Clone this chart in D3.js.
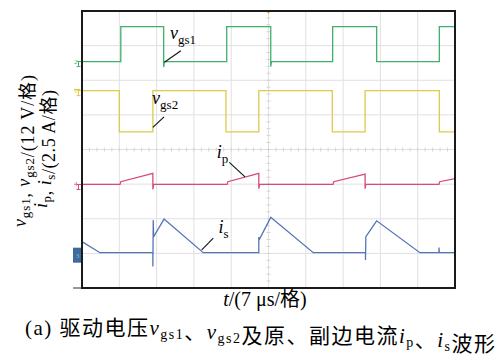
<!DOCTYPE html>
<html>
<head>
<meta charset="utf-8">
<style>
body {
    margin: 0px;
    overflow: hidden;
    background: #fff;
}
text {
    font-family: "Liberation Serif", "Noto Sans CJK SC", serif;
}
</style>
<script src="https://cdnjs.cloudflare.com/ajax/libs/d3/7.8.5/d3.min.js"></script>
</head>
<body>
<div id="chart"></div>
<script>
// scope grid: 10 x 8 divisions, waveforms given in divisions
var xDivs = d3.range(0, 11);
var yDivs = d3.range(0, 9);

var vgs1 = [[0,6.54],[1.04,6.54],[1.04,7.55],[2.19,7.55],[2.19,6.38],[2.21,6.54],[3.88,6.54],[3.88,7.55],
            [5.06,7.55],[5.06,6.40],[5.08,6.54],[6.72,6.54],[6.72,7.55],[7.90,7.55],[7.90,6.54],
            [9.58,6.54],[9.58,7.55],[10,7.55]];
var vgs2 = [[0,5.70],[1.00,5.70],[1.00,4.51],[1.90,4.51],[1.90,5.70],[3.86,5.70],[3.86,4.51],[4.74,4.51],
            [4.74,5.70],[6.71,5.70],[6.71,4.51],[7.59,4.51],[7.59,5.70],[9.58,5.70],[9.58,4.51],[10,4.51]];
var ip = [[0,2.99],[1.02,2.99],[1.04,3.07],[1.90,3.31],[1.90,2.85],[1.92,2.99],[3.89,2.99],[3.91,3.07],
          [4.74,3.31],[4.74,2.87],[4.76,2.99],[6.73,2.99],[6.75,3.07],[7.59,3.29],[7.59,2.87],[7.61,2.99],
          [9.57,2.99],[9.59,3.07],[10,3.16]];
var is = [[0,1.34],[0.48,1.02],[1.90,1.02],[1.90,0.62],[1.91,1.96],[1.92,1.48],[2.20,1.99],[3.25,1.02],
          [4.74,1.02],[4.74,1.47],[4.75,1.39],[5.06,2.04],[6.20,1.02],[7.60,1.02],[7.60,0.81],[7.61,1.48],
          [7.90,1.94],[9.06,1.02],[9.57,1.02],[9.57,1.17],[9.58,1.02],[10,1.02]];

var traces = [
    {name: "vgs1", ch: "2", data: vgs1, color: "#3fb06a"},
    {name: "vgs2", ch: "1", data: vgs2, color: "#ddcb4c"},
    {name: "ip",   ch: "4", data: ip,   color: "#d64a7c"},
    {name: "is",   ch: "3", data: is,   color: "#5675b6"}
];

// labels: main letter, subscript, text anchor and leader line (divisions)
var labels = [
    {main: "v", sub: "gs1", at: [2.36, 7.18], from: [2.65, 6.85], to: [2.21, 6.52]},
    {main: "v", sub: "gs2", at: [1.88, 5.30], from: [2.20, 4.94], to: [1.90, 4.64]},
    {main: "i", sub: "p",   at: [3.61, 3.75], from: [3.95, 3.63], to: [4.37, 3.21]},
    {main: "i", sub: "s",   at: [3.66, 1.58], from: [3.52, 1.44], to: [3.21, 1.10]}
];

var width = 498, height = 364;
var svg = d3.select("#chart").append("svg")
        .attr("width", width)
        .attr("height", height);

var x = d3.scaleLinear().domain([0, 10]).range([82, 455]);
var y = d3.scaleLinear().domain([0, 8]).range([288, 11]);

// grid
svg.append("g").selectAll("line").data(xDivs.slice(1, -1)).enter().append("line")
    .attr("x1", d => x(d)).attr("x2", d => x(d))
    .attr("y1", y(8)).attr("y2", y(0))
    .attr("stroke", "#e0e0e0").attr("stroke-width", 1);
svg.append("g").selectAll("line").data(yDivs.slice(1, -1)).enter().append("line")
    .attr("y1", d => y(d)).attr("y2", d => y(d))
    .attr("x1", x(0)).attr("x2", x(10))
    .attr("stroke", "#e0e0e0").attr("stroke-width", 1);

// minor ticks on the centre lines
svg.append("g").selectAll("line").data(d3.range(0, 8.01, 0.2)).enter().append("line")
    .attr("x1", x(5) - 2).attr("x2", x(5) + 2)
    .attr("y1", d => y(d)).attr("y2", d => y(d))
    .attr("stroke", "#d4d4d4");
svg.append("g").selectAll("line").data(d3.range(0, 10.01, 0.2)).enter().append("line")
    .attr("y1", y(4) - 2).attr("y2", y(4) + 2)
    .attr("x1", d => x(d)).attr("x2", d => x(d))
    .attr("stroke", "#d4d4d4");

// waveforms
var line = d3.line().x(d => x(d[0])).y(d => y(d[1]));
svg.append("g").selectAll("path").data(traces).enter().append("path")
    .attr("d", d => line(d.data))
    .attr("fill", "none")
    .attr("stroke", d => d.color)
    .attr("stroke-width", 1.3);

// channel ground markers on the left
traces.forEach(function (t) {
    if (t.ch === "3") {
        svg.append("rect").attr("x", 73).attr("y", y(t.data[2][1]) - 5)
            .attr("width", 9).attr("height", 15).attr("fill", "#3d6c9c");
        svg.append("text").attr("x", 77.5).attr("y", y(t.data[2][1]) + 5)
            .attr("text-anchor", "middle").attr("font-size", 7).attr("fill", "#9bb5d0").text(t.ch);
        return;
    }
    var y0 = y(t.data[0][1]);
    svg.append("text").attr("x", 74).attr("y", y0 + 2)
        .attr("font-size", 7).attr("fill", t.color).text(t.ch);
    svg.append("path")
        .attr("d", "M77," + y0 + "H82M78.5," + y0 + "V" + (y0 + 5) + "M76.5," + (y0 + 5) + "H80.5")
        .attr("stroke", t.color).attr("fill", "none").attr("stroke-width", 1);
});
// trigger level / position markers
svg.append("line").attr("x1", 74).attr("x2", 80).attr("y1", y(5.7) - 1).attr("y2", y(5.7) - 1)
    .attr("stroke", "#ddcb4c").attr("stroke-width", 1.5);
svg.append("path").attr("d", "M" + (x(5) - 3) + "," + (y(8) - 1) + "h6l-3,4z").attr("fill", "#e9a444");

// frame
svg.append("line").attr("x1", 73).attr("x2", 82).attr("y1", y(0)).attr("y2", y(0))
    .attr("stroke", "#999").attr("stroke-width", 2);
svg.append("rect")
    .attr("x", x(0)).attr("y", y(8))
    .attr("width", x(10) - x(0)).attr("height", y(0) - y(8))
    .attr("fill", "none").attr("stroke", "#1a1a1a").attr("stroke-width", 2);

// waveform labels
labels.forEach(function (l) {
    svg.append("line")
        .attr("x1", x(l.from[0])).attr("y1", y(l.from[1]))
        .attr("x2", x(l.to[0])).attr("y2", y(l.to[1]))
        .attr("stroke", "#111").attr("stroke-width", 1.1);
    var t = svg.append("text").attr("x", x(l.at[0])).attr("y", y(l.at[1])).attr("font-size", 18);
    t.append("tspan").attr("font-style", "italic").text(l.main);
    t.append("tspan").attr("font-size", 13).attr("dy", 5).text(l.sub);
});

function addSub(t, main, sub, size) {
    t.append("tspan").attr("font-style", "italic").text(main);
    t.append("tspan").attr("font-size", size).attr("dy", 4).text(sub);
    t.append("tspan").attr("dy", -4).text("");
}

// y-axis title (two lines)
var yl = svg.append("g").attr("transform", "translate(26,151) rotate(-90)");
var t1 = yl.append("text").attr("text-anchor", "middle").attr("font-size", 18)
    .attr("textLength", 152).attr("lengthAdjust", "spacing");
addSub(t1, "v", "gs1", 13);
t1.append("tspan").text(", ");
addSub(t1, "v", "gs2", 13);
t1.append("tspan").text("/(12 V/格)");
var t2 = yl.append("text").attr("text-anchor", "middle").attr("font-size", 18)
    .attr("x", 2).attr("y", 21).attr("textLength", 118).attr("lengthAdjust", "spacing");
addSub(t2, "i", "p", 13);
t2.append("tspan").text(", ");
addSub(t2, "i", "s", 13);
t2.append("tspan").text("/(2.5 A/格)");

// x-axis title
var xl = svg.append("text").attr("x", 265).attr("y", 306)
    .attr("text-anchor", "middle").attr("font-size", 20);
xl.append("tspan").attr("font-style", "italic").text("t");
xl.append("tspan").text("/(7 μs/格)");

// caption
var cap = svg.append("text").attr("x", 260).attr("y", 335)
    .attr("text-anchor", "middle").attr("font-size", 21)
    .attr("textLength", 470).attr("lengthAdjust", "spacing");
cap.append("tspan").text("(a) 驱动电压");
addSub(cap, "v", "gs1", 14);
cap.append("tspan").text("、");
addSub(cap, "v", "gs2", 14);
cap.append("tspan").text("及原、副边电流");
addSub(cap, "i", "p", 14);
cap.append("tspan").text("、");
addSub(cap, "i", "s", 14);
cap.append("tspan").text("波形");
</script>
</body>
</html>
